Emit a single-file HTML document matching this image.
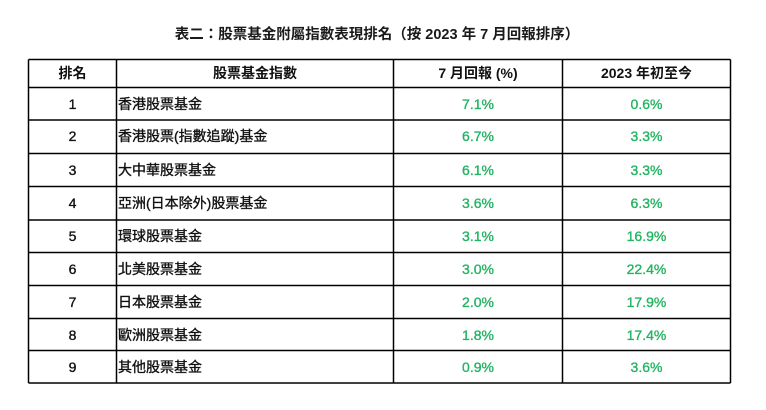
<!DOCTYPE html>
<html>
<head>
<meta charset="utf-8">
<style>
html,body{margin:0;padding:0;background:#fff;}
body{width:766px;height:410px;position:relative;overflow:hidden;font-family:"Liberation Sans","Noto Sans CJK TC","Noto Sans CJK SC",sans-serif;color:#111;}
.t{position:absolute;white-space:nowrap;font-size:14px;-webkit-text-stroke:0.35px currentColor;}
.title{position:absolute;left:0;width:754px;top:23px;text-align:center;font-size:14.5px;font-weight:bold;color:#1a1a1a;}
.c{text-align:center;}
.b{font-weight:bold;-webkit-text-stroke:0;}
.g{color:#22b461;}
svg{position:absolute;left:0;top:0;}
</style>
</head>
<body>
<div class="title">表二：股票基金附屬指數表現排名（按 2023 年 7 月回報排序）</div>
<svg width="766" height="410">
<g stroke="#000" stroke-width="1.5" fill="none">
<line x1="28.5" y1="59.5" x2="730.5" y2="59.5"/>
<line x1="28.5" y1="87.5" x2="730.5" y2="87.5"/>
<line x1="28.5" y1="120" x2="730.5" y2="120"/>
<line x1="28.5" y1="153.5" x2="730.5" y2="153.5"/>
<line x1="28.5" y1="186.5" x2="730.5" y2="186.5"/>
<line x1="28.5" y1="220" x2="730.5" y2="220"/>
<line x1="28.5" y1="252.5" x2="730.5" y2="252.5"/>
<line x1="28.5" y1="285.5" x2="730.5" y2="285.5"/>
<line x1="28.5" y1="318.5" x2="730.5" y2="318.5"/>
<line x1="28.5" y1="350.5" x2="730.5" y2="350.5"/>
<line x1="28.5" y1="383" x2="730.5" y2="383"/>
<line x1="28.5" y1="59.5" x2="28.5" y2="383"/>
<line x1="116.5" y1="59.5" x2="116.5" y2="383"/>
<line x1="393.5" y1="59.5" x2="393.5" y2="383"/>
<line x1="562.5" y1="59.5" x2="562.5" y2="383"/>
<line x1="730.5" y1="59.5" x2="730.5" y2="383"/>
</g>
</svg>

<!-- header -->
<div class="t c b" style="left:28px;width:89px;top:59px;line-height:29px;">排名</div>
<div class="t c b" style="left:116px;width:278px;top:59px;line-height:29px;">股票基金指數</div>
<div class="t c b" style="left:393px;width:170px;top:59px;line-height:29px;">7 月回報 (%)</div>
<div class="t c b" style="left:562px;width:169px;top:59px;line-height:29px;">2023 年初至今</div>

<!-- rows -->
<div class="t c" style="left:28px;width:89px;top:88px;line-height:32px;">1</div>
<div class="t" style="left:118px;top:88px;line-height:32px;">香港股票基金</div>
<div class="t c g" style="left:393px;width:170px;top:88px;line-height:32px;">7.1%</div>
<div class="t c g" style="left:562px;width:169px;top:88px;line-height:32px;">0.6%</div>

<div class="t c" style="left:28px;width:89px;top:120px;line-height:33px;">2</div>
<div class="t" style="left:118px;top:120px;line-height:33px;">香港股票(指數追蹤)基金</div>
<div class="t c g" style="left:393px;width:170px;top:120px;line-height:33px;">6.7%</div>
<div class="t c g" style="left:562px;width:169px;top:120px;line-height:33px;">3.3%</div>

<div class="t c" style="left:28px;width:89px;top:153.5px;line-height:33px;">3</div>
<div class="t" style="left:118px;top:153.5px;line-height:33px;">大中華股票基金</div>
<div class="t c g" style="left:393px;width:170px;top:153.5px;line-height:33px;">6.1%</div>
<div class="t c g" style="left:562px;width:169px;top:153.5px;line-height:33px;">3.3%</div>

<div class="t c" style="left:28px;width:89px;top:186.5px;line-height:33.5px;">4</div>
<div class="t" style="left:118px;top:186.5px;line-height:33.5px;">亞洲(日本除外)股票基金</div>
<div class="t c g" style="left:393px;width:170px;top:186.5px;line-height:33.5px;">3.6%</div>
<div class="t c g" style="left:562px;width:169px;top:186.5px;line-height:33.5px;">6.3%</div>

<div class="t c" style="left:28px;width:89px;top:220px;line-height:32.5px;">5</div>
<div class="t" style="left:118px;top:220px;line-height:32.5px;">環球股票基金</div>
<div class="t c g" style="left:393px;width:170px;top:220px;line-height:32.5px;">3.1%</div>
<div class="t c g" style="left:562px;width:169px;top:220px;line-height:32.5px;">16.9%</div>

<div class="t c" style="left:28px;width:89px;top:252.5px;line-height:33px;">6</div>
<div class="t" style="left:118px;top:252.5px;line-height:33px;">北美股票基金</div>
<div class="t c g" style="left:393px;width:170px;top:252.5px;line-height:33px;">3.0%</div>
<div class="t c g" style="left:562px;width:169px;top:252.5px;line-height:33px;">22.4%</div>

<div class="t c" style="left:28px;width:89px;top:285.5px;line-height:33px;">7</div>
<div class="t" style="left:118px;top:285.5px;line-height:33px;">日本股票基金</div>
<div class="t c g" style="left:393px;width:170px;top:285.5px;line-height:33px;">2.0%</div>
<div class="t c g" style="left:562px;width:169px;top:285.5px;line-height:33px;">17.9%</div>

<div class="t c" style="left:28px;width:89px;top:318.5px;line-height:32px;">8</div>
<div class="t" style="left:118px;top:318.5px;line-height:32px;">歐洲股票基金</div>
<div class="t c g" style="left:393px;width:170px;top:318.5px;line-height:32px;">1.8%</div>
<div class="t c g" style="left:562px;width:169px;top:318.5px;line-height:32px;">17.4%</div>

<div class="t c" style="left:28px;width:89px;top:350.5px;line-height:32.5px;">9</div>
<div class="t" style="left:118px;top:350.5px;line-height:32.5px;">其他股票基金</div>
<div class="t c g" style="left:393px;width:170px;top:350.5px;line-height:32.5px;">0.9%</div>
<div class="t c g" style="left:562px;width:169px;top:350.5px;line-height:32.5px;">3.6%</div>
</body>
</html>
